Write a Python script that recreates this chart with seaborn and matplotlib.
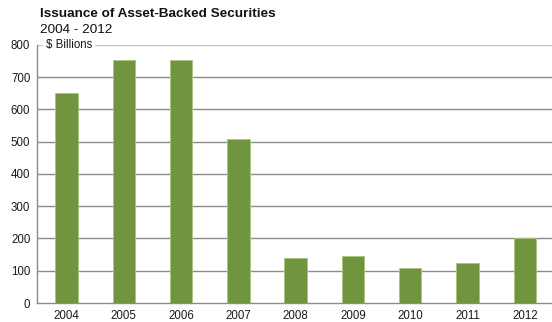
import matplotlib
matplotlib.use("Agg")
import matplotlib.pyplot as plt
import seaborn as sns
import pandas as pd

years = ["2004", "2005", "2006", "2007", "2008", "2009", "2010", "2011", "2012"]
issuance = [651, 752, 752, 508, 138, 146, 108, 125, 200]
y_ticks = [0, 100, 200, 300, 400, 500, 600, 700, 800]

df = pd.DataFrame({"year": years, "issuance": issuance})

sns.set_theme(style="white")
plt.rcParams["font.family"] = ["Liberation Sans", "DejaVu Sans"]

fig = plt.figure(figsize=(5.52, 3.22), dpi=100)
ax = fig.add_axes([0.0676, 0.059, 0.935, 0.802])

sns.barplot(data=df, x="year", y="issuance", color="#71953f", width=0.39,
            edgecolor="#a9c483", linewidth=0.7, saturation=1, ax=ax, zorder=3)

ax.set_ylim(0, 800)
ax.set_xlim(-0.51, 8.5)
ax.set_yticks(y_ticks)
ax.set_yticklabels([str(v) for v in y_ticks])
ax.tick_params(axis="both", length=0, labelsize=8.3, colors="#1a1a1a", pad=5)
ax.tick_params(axis="x", pad=5)
ax.set_xlabel("")
ax.set_ylabel("")

for v in y_ticks[1:-1]:
    ax.axhline(v, color="#8c8c8c", linewidth=1.0, zorder=1)
ax.axhline(800, color="#c4c4c4", linewidth=1.0, zorder=1)

for side in ["top", "right"]:
    ax.spines[side].set_visible(False)
ax.spines["left"].set_color("#8c8c8c")
ax.spines["bottom"].set_color("#8c8c8c")
ax.spines["left"].set_linewidth(1.0)
ax.spines["bottom"].set_linewidth(1.0)

ax.text(0.016, 800, "$ Billions", transform=ax.get_yaxis_transform(),
        ha="left", va="center", fontsize=8.3, color="#1a1a1a", zorder=5,
        bbox=dict(facecolor="white", edgecolor="none", pad=2.0))

fig.text(40 / 552, 1 - 14 / 322, "Issuance of Asset-Backed Securities",
         fontsize=9.7, fontweight="bold", color="#111111", ha="left", va="center")
fig.text(40 / 552, 1 - 30 / 322, "2004 - 2012",
         fontsize=9.7, color="#111111", ha="left", va="center")

fig.savefig("out.png", dpi=100)
